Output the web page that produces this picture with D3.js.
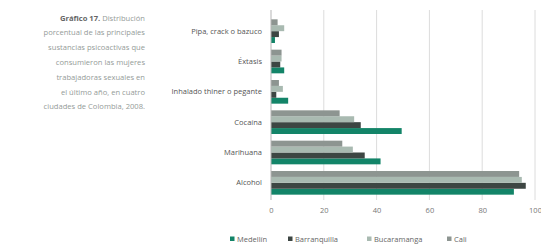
<!DOCTYPE html>
<html>
<head>
<meta charset="utf-8">
<script src="https://cdn.jsdelivr.net/npm/d3@7"></script>
<style>
  body { margin: 0; background: #fff; }
  text { font-family: "Open Sans", sans-serif; }
</style>
</head>
<body>
<svg id="chart" width="541" height="244"></svg>
<script>
// Datos
const categories = ["Pipa, crack o bazuco", "Éxtasis", "Inhalado thiner o pegante", "Cocaína", "Marihuana", "Alcohol"];
const cities = ["Medellín", "Barranquilla", "Bucaramanga", "Cali"];
const medellin     = [1.5, 5, 6.5, 49.5, 41.5, 92];
const barranquilla = [3, 3.5, 2, 34, 35.5, 96.5];
const bucaramanga  = [5, 4, 4.5, 31.5, 31, 95];
const cali         = [2.5, 4, 3, 26, 27, 94];
const xTicks = [0, 20, 40, 60, 80, 100];

const captionLines = [
  ["Gráfico 17.", " Distribución"],
  ["", "porcentual de las principales"],
  ["", "sustancias psicoactivas que"],
  ["", "consumieron las mujeres"],
  ["", "trabajadoras sexuales en"],
  ["", "el último año, en cuatro"],
  ["", "ciudades de Colombia, 2008."]
];

const series = { "Medellín": medellin, "Barranquilla": barranquilla, "Bucaramanga": bucaramanga, "Cali": cali };
const color = { "Medellín": "#138468", "Barranquilla": "#3d4643", "Bucaramanga": "#a9bab1", "Cali": "#8d9591" };

const rows = [];
categories.forEach((c, i) => {
  cities.forEach(city => rows.push({ cat: c, city: city, value: series[city][i] }));
});

const svg = d3.select("#chart");

const x = d3.scaleLinear().domain([0, 100]).range([271, 535]);
const y = d3.scaleBand().domain(categories).range([16, 198]).paddingInner(0.22).paddingOuter(0.11);
// dentro de cada grupo: Cali arriba, Medellín abajo
const y1 = d3.scaleBand().domain(cities.slice().reverse()).range([0, y.bandwidth()]);

// Rejilla
svg.append("g")
  .selectAll("line")
  .data(xTicks.slice(1))
  .enter().append("line")
  .attr("x1", d => x(d)).attr("x2", d => x(d))
  .attr("y1", 10).attr("y2", 200)
  .attr("stroke", "#dcdcdc")
  .attr("stroke-width", 1);

// Barras
svg.append("g")
  .selectAll("rect")
  .data(rows)
  .enter().append("rect")
  .attr("x", x(0))
  .attr("y", d => y(d.cat) + y1(d.city))
  .attr("width", d => x(d.value) - x(0))
  .attr("height", y1.bandwidth())
  .attr("fill", d => color[d.city]);

// Eje vertical
svg.append("line")
  .attr("x1", x(0)).attr("x2", x(0))
  .attr("y1", 10).attr("y2", 200)
  .attr("stroke", "#b5b5b5");

// Etiquetas de categoría
svg.append("g")
  .selectAll("text")
  .data(categories)
  .enter().append("text")
  .attr("x", 262)
  .attr("y", d => y(d) + y.bandwidth() / 2)
  .attr("dy", "0.35em")
  .attr("text-anchor", "end")
  .style("font-size", "7.5px")
  .attr("fill", "#555")
  .text(d => d);

// Eje X
const xAxis = svg.append("g")
  .attr("transform", "translate(0,200)")
  .call(d3.axisBottom(x).tickValues(xTicks).tickSize(0).tickPadding(8));
xAxis.select(".domain").remove();
xAxis.selectAll("text")
  .style("font-size", "7.5px")
  .style("font-family", "'Open Sans', sans-serif")
  .attr("fill", "#777");

// Leyenda
const legendX = [230, 288, 367, 447];
const legend = svg.append("g")
  .selectAll("g")
  .data(cities)
  .enter().append("g")
  .attr("transform", (d, i) => `translate(${legendX[i]},239)`);

legend.append("rect")
  .attr("x", 0).attr("y", -2.5)
  .attr("width", 4.5).attr("height", 4.5)
  .attr("fill", d => color[d]);

legend.append("text")
  .attr("x", 7).attr("y", 0)
  .attr("dy", "0.35em")
  .style("font-size", "7.5px")
  .attr("fill", "#666")
  .text(d => d);

// Título / pie de gráfico
const cap = svg.append("g")
  .selectAll("text")
  .data(captionLines)
  .enter().append("text")
  .attr("x", 145)
  .attr("y", (d, i) => 18 + i * 14.8)
  .attr("dy", "0.35em")
  .attr("text-anchor", "end")
  .style("font-size", "7.6px");

cap.append("tspan")
  .style("font-weight", "bold")
  .attr("fill", "#666")
  .text(d => d[0]);

cap.append("tspan")
  .attr("fill", "#949b98")
  .text(d => d[1]);
</script>
</body>
</html>
